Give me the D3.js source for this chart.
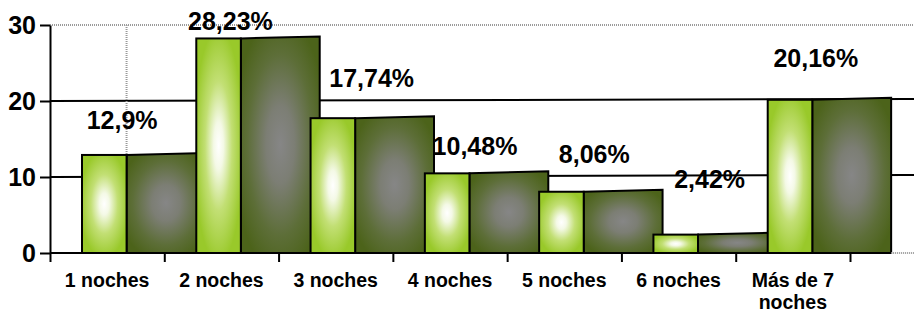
<!DOCTYPE html>
<html>
<head>
<meta charset="utf-8">
<script src="https://cdn.jsdelivr.net/npm/d3@7"></script>
<style>
    body { margin: 0; background: #fff; }
    text { font-family: "Liberation Sans", Arial, sans-serif; font-weight: bold; fill: #000; }
</style>
</head>
<body>
<svg id="chart"></svg>
<script>
// nights stayed, share of guests (%)
const categories = ["1 noches", "2 noches", "3 noches", "4 noches", "5 noches", "6 noches", "Más de 7 noches"];
const percents = [12.9, 28.23, 17.74, 10.48, 8.06, 2.42, 20.16];
const yTicks = [0, 10, 20, 30];

const W = 914, H = 315;

const svg = d3.select("#chart")
    .attr("width", W)
    .attr("height", H);

// spanish number format: 12,9%
const es = d3.formatLocale({ decimal: ",", thousands: ".", grouping: [3], currency: ["", "€"] });
const fmt = es.format(".2~f");

const x = d3.scaleBand()
    .domain(categories)
    .range([50, 850]);

// ticks sit between the categories
const xEdge = d3.scaleLinear()
    .domain([0, categories.length])
    .range(x.range());

const y = d3.scaleLinear()
    .domain([0, 30])
    .range([253, 25]);

const bw = x.bandwidth();
const frontOff = bw * 0.28, frontW = bw * 0.39, sideW = bw * 0.69;

// gradients for the two bar faces
const defs = svg.append("defs");
const front = defs.append("radialGradient").attr("id", "frontGrad")
    .attr("cx", 0.5).attr("cy", 0.5).attr("r", 0.55);
[[0, "#ffffff"], [0.2, "#f4f9e6"], [0.55, "#c2df74"], [1, "#99c92a"]]
    .forEach(s => front.append("stop").attr("offset", s[0]).attr("stop-color", s[1]));
const side = defs.append("radialGradient").attr("id", "sideGrad")
    .attr("cx", 0.5).attr("cy", 0.5).attr("r", 0.6);
[[0, "#868686"], [0.3, "#7c7e74"], [0.7, "#5d6e38"], [1, "#4c631a"]]
    .forEach(s => side.append("stop").attr("offset", s[0]).attr("stop-color", s[1]));

// gridlines (a little tilted like the original)
svg.selectAll(".grid")
    .data(yTicks.filter(t => t > 0 && t < 30))
    .enter()
    .append("line")
    .attr("class", "grid")
    .attr("x1", x.range()[0]).attr("x2", W)
    .attr("y1", d => y(d)).attr("y2", d => y(d) - 2)
    .attr("stroke", "#000")
    .attr("stroke-width", 2);

svg.append("line")
    .attr("x1", x.range()[0]).attr("x2", W)
    .attr("y1", y(30)).attr("y2", y(30))
    .attr("stroke", "#9a9a9a")
    .attr("stroke-width", 2)
    .attr("stroke-dasharray", "1,1");

// dotted wall edge behind the first bar
svg.append("line")
    .attr("x1", x(categories[0]) + frontOff + frontW).attr("x2", x(categories[0]) + frontOff + frontW)
    .attr("y1", y(30)).attr("y2", y(0))
    .attr("stroke", "#9a9a9a")
    .attr("stroke-width", 2)
    .attr("stroke-dasharray", "1,1");

// bars: side face then front face, left to right
const bars = svg.selectAll(".bar")
    .data(categories.map((c, i) => ({ cat: c, val: percents[i] })))
    .enter()
    .append("g")
    .attr("class", "bar");

bars.append("path")
    .attr("d", d => {
        let x0 = x(d.cat) + frontOff + frontW, x1 = x0 + sideW;
        return `M${x0},${y(d.val)}L${x1},${y(d.val) - 2}L${x1},${y(0)}L${x0},${y(0)}Z`;
    })
    .attr("fill", "url(#sideGrad)")
    .attr("stroke", "#000")
    .attr("stroke-width", 2)
    .attr("stroke-linejoin", "miter");

bars.append("rect")
    .attr("x", d => x(d.cat) + frontOff)
    .attr("y", d => y(d.val))
    .attr("width", frontW)
    .attr("height", d => y(0) - y(d.val))
    .attr("fill", "url(#frontGrad)")
    .attr("stroke", "#000")
    .attr("stroke-width", 2);

// zero line, dotted past the last bar
const lastEnd = x(categories[categories.length - 1]) + frontOff + frontW + sideW;
svg.append("line")
    .attr("x1", x.range()[0]).attr("x2", lastEnd)
    .attr("y1", y(0)).attr("y2", y(0))
    .attr("stroke", "#000")
    .attr("stroke-width", 2);
svg.append("line")
    .attr("x1", lastEnd).attr("x2", W)
    .attr("y1", y(0)).attr("y2", y(0))
    .attr("stroke", "#9a9a9a")
    .attr("stroke-width", 2)
    .attr("stroke-dasharray", "1,1");

// y axis
const yAxis = svg.append("g")
    .attr("transform", `translate(${x.range()[0]},0)`)
    .call(d3.axisLeft(y).tickValues(yTicks).tickSize(10).tickSizeOuter(0).tickPadding(4));
yAxis.select(".domain").attr("stroke-width", 2);
yAxis.selectAll(".tick line").attr("stroke-width", 2);
yAxis.selectAll("text").style("font-size", "25px").attr("fill", "#000");

// x tick marks between categories
const xTicks = svg.append("g")
    .attr("transform", `translate(0,${y(0)})`)
    .call(d3.axisBottom(xEdge).tickValues(d3.range(categories.length + 1)).tickFormat("").tickSize(9).tickSizeOuter(0));
xTicks.select(".domain").remove();
xTicks.selectAll(".tick line").attr("stroke-width", 2);

// x labels, wrapped to the band
const xl = svg.selectAll(".xlab")
    .data(categories)
    .enter()
    .append("text")
    .attr("class", "xlab")
    .attr("x", d => x(d) + bw / 2)
    .attr("y", 287)
    .attr("text-anchor", "middle")
    .style("font-size", "19.5px");

xl.each(function(d) {
    let t = d3.select(this), words = d.split(" "), line = [];
    let ts = t.append("tspan").attr("x", x(d) + bw / 2).attr("dy", 0);
    words.forEach(w => {
        line.push(w);
        ts.text(line.join(" "));
        if (ts.node().getComputedTextLength() > bw - 10 && line.length > 1) {
            line.pop();
            ts.text(line.join(" "));
            line = [w];
            ts = t.append("tspan").attr("x", x(d) + bw / 2).attr("dy", 22).text(w);
        }
    });
});

// value labels, nudged off the bar tops like the source
const labelShift = [[15, -26], [9, -8], [36, -31], [25, -18], [30, -29], [31, -47], [23, -33]];
svg.selectAll(".vlab")
    .data(percents)
    .enter()
    .append("text")
    .attr("class", "vlab")
    .attr("x", (d, i) => x(categories[i]) + bw / 2 + labelShift[i][0])
    .attr("y", (d, i) => y(d) + labelShift[i][1])
    .attr("text-anchor", "middle")
    .style("font-size", "25px")
    .text(d => fmt(d) + "%");
</script>
</body>
</html>
